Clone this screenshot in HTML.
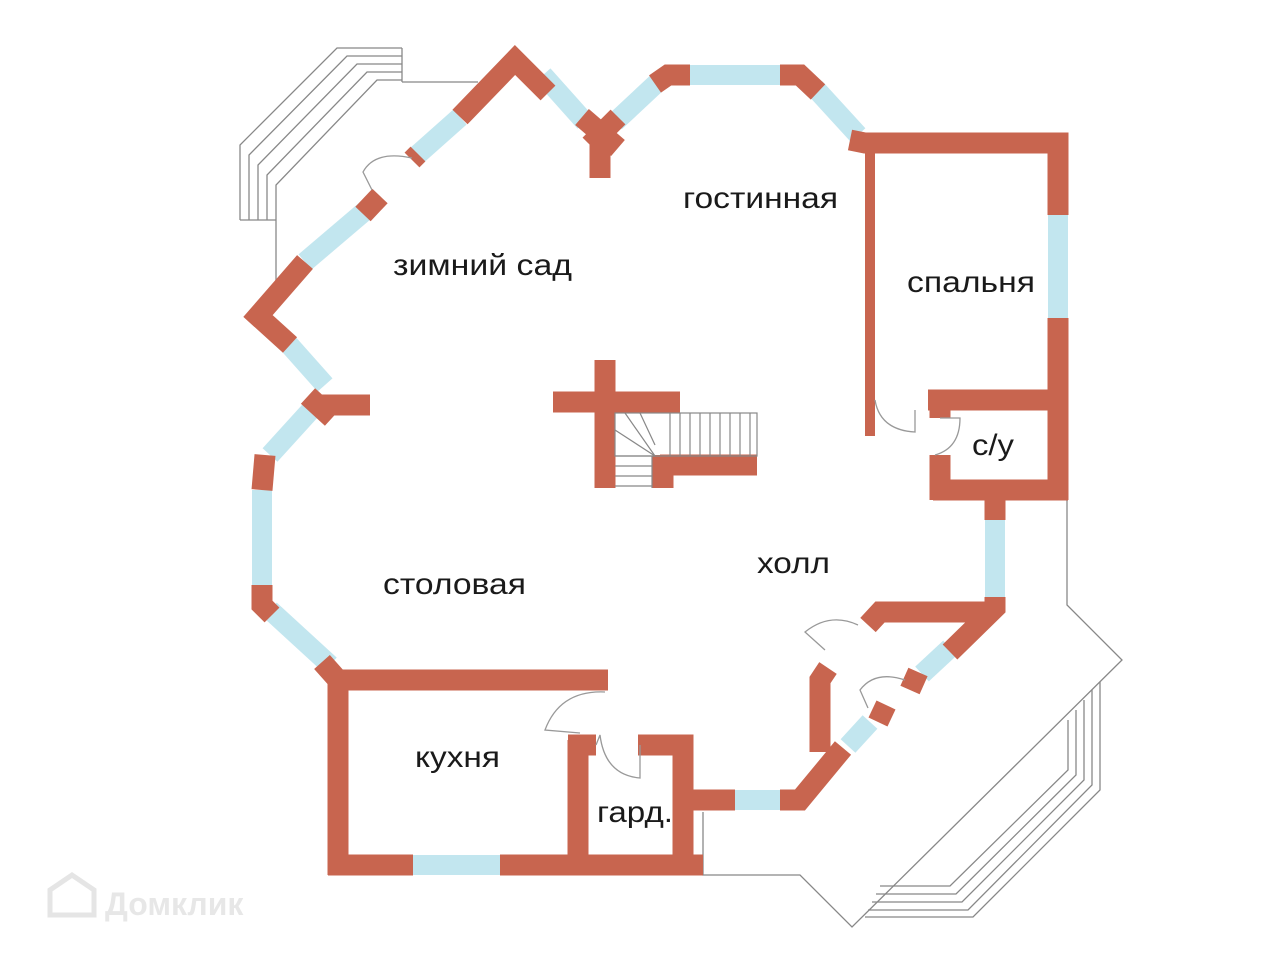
<!DOCTYPE html>
<html><head><meta charset="utf-8"><style>
html,body{margin:0;padding:0;background:#fff}
svg{display:block}
text{font-family:"Liberation Sans","DejaVu Sans",sans-serif;fill:#1a1a1a}
</style></head><body>
<svg width="1280" height="960" viewBox="0 0 1280 960" xmlns="http://www.w3.org/2000/svg">
<!-- thin outlines: terraces -->
<g fill="none" stroke="#888" stroke-width="1.3">
<polyline points="240,220 240,145 337,48 402,48"/>
<polyline points="249,220 249,155 347,56 402,56"/>
<polyline points="258,220 258,165 357,64 402,64"/>
<polyline points="267,220 267,175 367,72 402,72"/>
<polyline points="276,220 276,185 377,80 402,80"/>
<line x1="240" y1="220" x2="276" y2="220"/>
<line x1="276" y1="220" x2="276" y2="285"/>
<line x1="402" y1="48" x2="402" y2="82"/>
<line x1="402" y1="82" x2="478" y2="82"/>
<polyline points="1067,495 1067,605 1122,660 852,927 800,875 703,875 703,812"/>
<polyline points="1100,682 1100,790 973,917 865,917"/>
<polyline points="1092,690 1092,785 968,910 868,910"/>
<polyline points="1084,700 1084,780 962,902 872,902"/>
<polyline points="1076,710 1076,775 956,894 876,894"/>
<polyline points="1068,720 1068,770 950,886 880,886"/>
</g>
<!-- glass -->
<g stroke="#c2e6ef" stroke-width="20" fill="none" stroke-linecap="butt">
<line x1="460" y1="117" x2="415" y2="157"/>
<line x1="372" y1="205" x2="305" y2="262"/>
<line x1="285" y1="340" x2="325" y2="385"/>
<line x1="320" y1="400" x2="270" y2="455"/>
<line x1="262" y1="490" x2="262" y2="585"/>
<line x1="270" y1="610" x2="330" y2="665"/>
<line x1="543" y1="75" x2="585" y2="122"/>
<line x1="615" y1="122" x2="660" y2="80"/>
<line x1="690" y1="75" x2="780" y2="75"/>
<line x1="815" y1="88" x2="858" y2="135"/>
<line x1="1058" y1="215" x2="1058" y2="318"/>
<line x1="995" y1="520" x2="995" y2="597"/>
<line x1="950" y1="648" x2="922" y2="674"/>
<line x1="870" y1="722" x2="848" y2="746"/>
<line x1="735" y1="800" x2="780" y2="800"/>
<line x1="413" y1="865" x2="500" y2="865"/>
</g>
<!-- walls -->
<g stroke="#c8654f" stroke-width="21" fill="none" stroke-linecap="butt" stroke-linejoin="miter">
<polyline points="460,117 515,60 548,93"/>
<line x1="418" y1="154" x2="412" y2="160"/>
<line x1="380" y1="196" x2="363" y2="214"/>
<polyline points="305,262 258,316 290,345"/>
<line x1="318" y1="405" x2="370" y2="405"/>
<line x1="308" y1="396" x2="332" y2="418"/>
<line x1="265" y1="455" x2="262" y2="490"/>
<polyline points="262,585 262,605 272,615"/>
<polyline points="322,662 338,680 608,680"/>
<line x1="338" y1="680" x2="338" y2="875"/>
<line x1="328" y1="865" x2="413" y2="865"/>
<line x1="500" y1="865" x2="703" y2="865"/>
<polyline points="578,740 578,860"/>
<line x1="568" y1="745" x2="596" y2="745"/>
<polyline points="638,745 683,745 683,860"/>
<line x1="683" y1="800" x2="735" y2="800"/>
<polyline points="780,800 800,800 843,748"/>
<line x1="582" y1="117" x2="618" y2="148"/><line x1="618" y1="117" x2="590" y2="145"/>
<line x1="600" y1="130" x2="600" y2="178"/>
<polyline points="655,84 668,75 690,75"/>
<polyline points="780,75 800,75 818,92"/>
<polyline points="850,140 865,143 1058,143 1058,215"/>
<line x1="1058" y1="318" x2="1058" y2="500"/>
<line x1="928" y1="400" x2="1058" y2="400"/>
<line x1="933" y1="490" x2="1068" y2="490"/>
<line x1="940" y1="400" x2="940" y2="418"/>
<line x1="940" y1="455" x2="940" y2="500"/>
<line x1="995" y1="495" x2="995" y2="520"/>
<polyline points="995,597 995,608 950,652"/>
<polyline points="868,625 880,612 990,612"/>
<line x1="918" y1="672" x2="910" y2="690"/>
<line x1="886" y1="705" x2="878" y2="722"/>
<polyline points="828,668 820,680 820,752"/>
<line x1="605" y1="360" x2="605" y2="488"/>
<line x1="553" y1="402" x2="680" y2="402"/>
<line x1="663" y1="455" x2="663" y2="488"/>
<line x1="660" y1="465" x2="757" y2="465"/>
</g>
<line x1="870" y1="150" x2="870" y2="436" stroke="#c8654f" stroke-width="10"/>
<!-- stairs -->
<g stroke="#888" stroke-width="1.2" fill="none">
<rect x="615" y="413" width="142" height="43"/>
<line x1="670" y1="413" x2="670" y2="456"/><line x1="680" y1="413" x2="680" y2="456"/><line x1="690" y1="413" x2="690" y2="456"/><line x1="700" y1="413" x2="700" y2="456"/><line x1="710" y1="413" x2="710" y2="456"/><line x1="720" y1="413" x2="720" y2="456"/><line x1="730" y1="413" x2="730" y2="456"/><line x1="740" y1="413" x2="740" y2="456"/><line x1="750" y1="413" x2="750" y2="456"/>
<line x1="615" y1="456" x2="655" y2="456"/><line x1="615" y1="466" x2="652" y2="466"/><line x1="615" y1="476" x2="652" y2="476"/><line x1="615" y1="486" x2="652" y2="486"/>
<line x1="625" y1="413" x2="655" y2="456"/><line x1="640" y1="413" x2="655" y2="445"/><line x1="615" y1="430" x2="655" y2="456"/>
<line x1="652" y1="456" x2="652" y2="488"/>
</g>
<!-- door swings -->
<g stroke="#999" stroke-width="1.3" fill="none">
<path d="M412,158 Q375,150 363,172 L372,190"/>
<path d="M875,400 Q880,430 915,432 L915,410"/>
<path d="M940,418 L960,418 Q960,448 935,455"/>
<path d="M605,692 Q560,690 545,730 L580,733"/>
<path d="M596,745 L600,735 Q605,775 640,778 L640,745"/>
<path d="M858,625 Q830,612 805,632 L825,650"/>
<path d="M905,680 Q875,670 860,690 L868,708"/>
</g>
<!-- labels -->
<g font-size="30">
<text x="393" y="275" textLength="179" lengthAdjust="spacingAndGlyphs">зимний сад</text>
<text x="683" y="208" textLength="155" lengthAdjust="spacingAndGlyphs">гостинная</text>
<text x="907" y="292" textLength="128" lengthAdjust="spacingAndGlyphs">спальня</text>
<text x="972" y="455" textLength="42" lengthAdjust="spacingAndGlyphs">с/у</text>
<text x="383" y="594" textLength="143" lengthAdjust="spacingAndGlyphs">столовая</text>
<text x="757" y="573" textLength="73" lengthAdjust="spacingAndGlyphs">холл</text>
<text x="415" y="767" textLength="85" lengthAdjust="spacingAndGlyphs">кухня</text>
<text x="597" y="822" textLength="76" lengthAdjust="spacingAndGlyphs">гард.</text>
</g>
<!-- watermark -->
<g opacity="0.5">
<path d="M50,915 L50,890 L72,875 L94,890 L94,915 Z" fill="none" stroke="#ccc" stroke-width="5"/>
<text x="105" y="915" font-size="32" font-weight="bold" style="fill:#d0d0d0">Домклик</text>
</g>
</svg>
</body></html>
